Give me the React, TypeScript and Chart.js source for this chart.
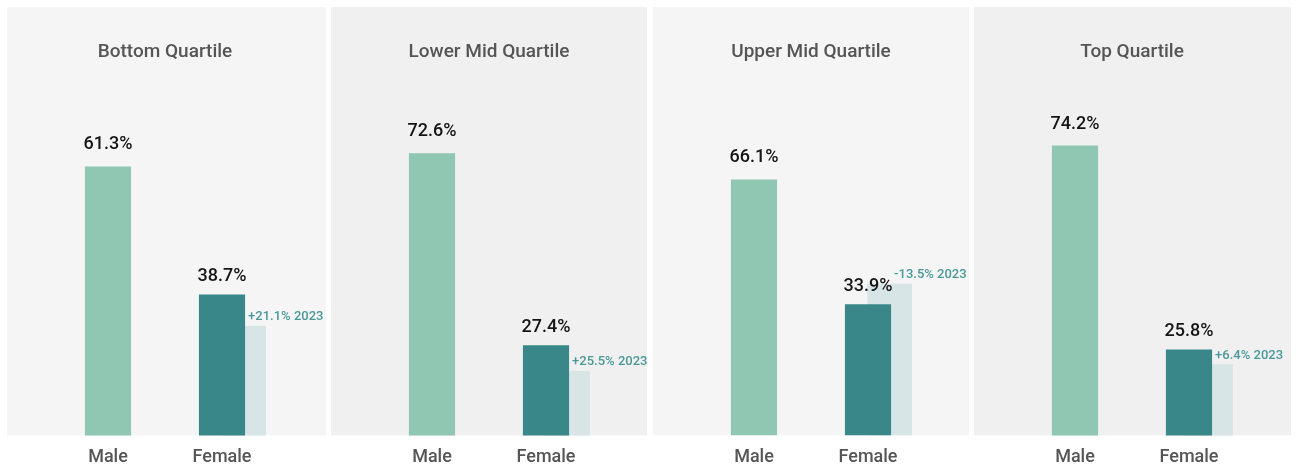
import React, { useEffect, useRef } from "react";
import { Chart, registerables } from "chart.js";

Chart.register(...registerables);

// ---- data ----
const quartiles = ["Bottom Quartile", "Lower Mid Quartile", "Upper Mid Quartile", "Top Quartile"];
const genders = ["Male", "Female"];
const malePct = [61.3, 72.6, 66.1, 74.2];
const femalePct = [38.7, 27.4, 33.9, 25.8];
const female2023 = [33.1, 21.3, 39.1, 22.2];
const femaleChangeLabels = ["+21.1% 2023", "+25.5% 2023", "-13.5% 2023", "+6.4% 2023"];
const yAxisMin = [13.8, 6.2, 0, 5.4];
const yAxisMax = [78.0, 91.8, 93.9, 91.7];

// ---- style / layout ----
const FONT = "Roboto, 'Liberation Sans', sans-serif";
const MALE_COLOR = "#8fc7b3";
const FEMALE_COLOR = "#3a8789";
const GHOST_COLOR = "#d8e5e6";
const CHANGE_COLOR = "#4a9898";
const PANEL_BG = ["#f5f5f5", "#f0f0f0", "#f5f5f5", "#f0f0f0"];
const PANEL_LEFT = [7, 331, 653, 974];
const PANEL_WIDTH = [319, 316, 316, 317];
const PANEL_TOP = 7;
const PANEL_HEIGHT = 461;
const PLOT_LEFT = 44;
const PLOT_WIDTH = 228;
const GHOST_SHIFT = 0.19;
const VALUE_GAP = [17, 13];

function Panel({ index }: { index: number }) {
  const ref = useRef<HTMLCanvasElement>(null);

  useEffect(() => {
    const bgPlugin = {
      id: "panelBg",
      beforeDraw(chart: any) {
        const { ctx, chartArea } = chart;
        ctx.save();
        ctx.fillStyle = PANEL_BG[index];
        ctx.fillRect(0, 0, chart.width, chartArea.bottom);
        ctx.restore();
      },
    };
    const labelPlugin = {
      id: "valueLabels",
      afterDatasetsDraw(chart: any) {
        const { ctx } = chart;
        const main = chart.getDatasetMeta(0);
        const ghost = chart.getDatasetMeta(1);
        ctx.save();
        ctx.textBaseline = "alphabetic";
        ctx.textAlign = "center";
        ctx.fillStyle = "#151515";
        ctx.font = `500 18px ${FONT}`;
        const vals = [malePct[index], femalePct[index]];
        main.data.forEach((bar: any, i: number) => {
          ctx.fillText(`${vals[i].toFixed(1)}%`, bar.x, bar.y - VALUE_GAP[i]);
        });
        const fb = main.data[1];
        const gb = ghost.data[0];
        ctx.textAlign = "left";
        ctx.fillStyle = CHANGE_COLOR;
        ctx.font = `500 13px ${FONT}`;
        ctx.fillText(femaleChangeLabels[index], fb.x + fb.width / 2 + 3, gb.y - 6);
        ctx.restore();
      },
    };

    const chart = new Chart(ref.current as HTMLCanvasElement, {
      type: "bar",
      data: {
        labels: genders,
        datasets: [
          {
            label: "Share",
            data: [malePct[index], femalePct[index]],
            backgroundColor: [MALE_COLOR, FEMALE_COLOR],
            xAxisID: "x",
            yAxisID: "y",
            order: 1,
            grouped: false,
            categoryPercentage: 1,
            barPercentage: 0.405,
            borderWidth: 0,
          },
          {
            label: "Female 2023",
            data: [{ x: 1 + GHOST_SHIFT, y: female2023[index] }] as any,
            backgroundColor: GHOST_COLOR,
            xAxisID: "xg",
            yAxisID: "y",
            order: 2,
            grouped: false,
            barThickness: 44,
            borderWidth: 0,
          },
        ] as any,
      },
      options: {
        animation: false,
        responsive: false,
        events: [],
        layout: {
          padding: {
            left: PLOT_LEFT,
            right: PANEL_WIDTH[index] - PLOT_LEFT - PLOT_WIDTH,
            top: 0,
            bottom: -11,
          },
        },
        plugins: {
          legend: { display: false },
          tooltip: { enabled: false },
          title: {
            display: true,
            text: quartiles[index],
            color: "#555555",
            font: { family: FONT, size: 19, weight: "500" as any },
            padding: { top: 34, bottom: 8 },
          },
        },
        scales: {
          x: {
            type: "category",
            offset: true,
            grid: { display: false, drawTicks: false },
            border: { display: false },
            ticks: { color: "#555555", font: { family: FONT, size: 18, weight: "500" }, padding: 11 },
          },
          xg: {
            type: "linear",
            axis: "x",
            position: "bottom",
            display: false,
            offset: false,
            grid: { display: false, drawTicks: false },
            ticks: { display: false },
            min: -0.5,
            max: 1.5,
          },
          y: {
            type: "linear",
            display: false,
            min: yAxisMin[index],
            max: yAxisMax[index],
          },
        } as any,
      },
      plugins: [bgPlugin, labelPlugin],
    });
    return () => chart.destroy();
  }, [index]);

  return (
    <canvas
      ref={ref}
      width={PANEL_WIDTH[index]}
      height={PANEL_HEIGHT}
      style={{
        position: "absolute",
        left: PANEL_LEFT[index],
        top: PANEL_TOP,
        width: PANEL_WIDTH[index],
        height: PANEL_HEIGHT,
      }}
    />
  );
}

export default function App() {
  useEffect(() => {
    document.body.style.overflow = "hidden";
  }, []);
  return (
    <div>
      {quartiles.map((_, i) => (
        <Panel key={i} index={i} />
      ))}
    </div>
  );
}
